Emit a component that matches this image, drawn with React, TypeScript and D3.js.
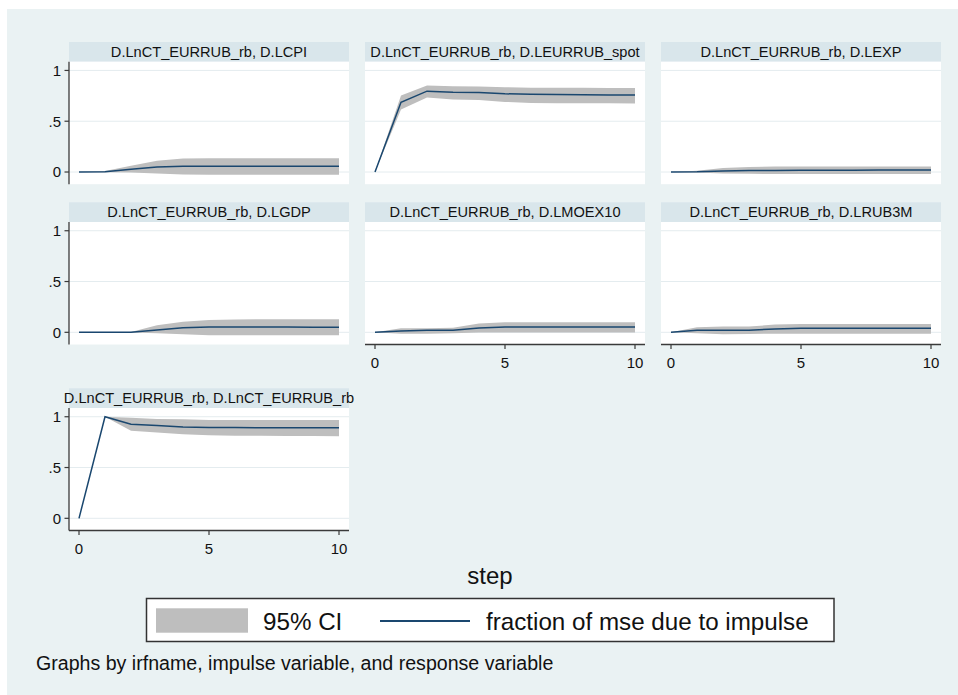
import React from "react";
import * as d3 from "d3";

const steps = [0, 1, 2, 3, 4, 5, 6, 7, 8, 9, 10];
const impulseName = "D.LnCT_EURRUB_rb";
const responseNames = ["D.LCPI", "D.LEURRUB_spot", "D.LEXP", "D.LGDP", "D.LMOEX10", "D.LRUB3M", "D.LnCT_EURRUB_rb"];

const lcpiFrac = [0, 0.003, 0.027, 0.05, 0.056, 0.057, 0.057, 0.057, 0.057, 0.057, 0.057];
const lcpiLo = [0, -0.002, -0.006, -0.015, -0.024, -0.026, -0.026, -0.026, -0.026, -0.026, -0.026];
const lcpiHi = [0, 0.01, 0.062, 0.112, 0.132, 0.135, 0.135, 0.135, 0.135, 0.135, 0.135];

const spotFrac = [0, 0.687, 0.796, 0.786, 0.782, 0.77, 0.765, 0.763, 0.761, 0.759, 0.757];
const spotLo = [0, 0.615, 0.733, 0.714, 0.71, 0.69, 0.68, 0.678, 0.677, 0.676, 0.675];
const spotHi = [0, 0.753, 0.852, 0.845, 0.843, 0.835, 0.83, 0.829, 0.829, 0.828, 0.828];

const lexpFrac = [0, 0.002, 0.01, 0.014, 0.016, 0.017, 0.018, 0.018, 0.019, 0.019, 0.019];
const lexpLo = [0, -0.006, -0.014, -0.018, -0.02, -0.02, -0.02, -0.02, -0.02, -0.02, -0.02];
const lexpHi = [0, 0.012, 0.04, 0.05, 0.054, 0.055, 0.055, 0.055, 0.055, 0.055, 0.055];

const lgdpFrac = [0, 0, 0.001, 0.023, 0.046, 0.052, 0.053, 0.053, 0.052, 0.051, 0.05];
const lgdpLo = [0, 0, -0.001, -0.01, -0.02, -0.028, -0.03, -0.03, -0.03, -0.03, -0.03];
const lgdpHi = [0, 0, 0.003, 0.069, 0.105, 0.122, 0.127, 0.128, 0.128, 0.128, 0.128];

const moexFrac = [0, 0.013, 0.02, 0.02, 0.043, 0.053, 0.053, 0.053, 0.053, 0.053, 0.053];
const moexLo = [0, -0.013, -0.015, -0.01, -0.003, -0.003, -0.003, -0.003, -0.003, -0.003, -0.003];
const moexHi = [0, 0.04, 0.04, 0.046, 0.086, 0.099, 0.099, 0.099, 0.099, 0.099, 0.099];

const rub3mFrac = [0, 0.02, 0.02, 0.02, 0.033, 0.04, 0.04, 0.04, 0.04, 0.04, 0.04];
const rub3mLo = [0, -0.01, -0.02, -0.016, -0.014, -0.013, -0.013, -0.013, -0.013, -0.013, -0.013];
const rub3mHi = [0, 0.05, 0.056, 0.056, 0.076, 0.083, 0.083, 0.083, 0.083, 0.083, 0.083];

const ownFrac = [0, 1.0, 0.927, 0.914, 0.9, 0.894, 0.893, 0.892, 0.892, 0.891, 0.891];
const ownLo = [0, 1.0, 0.861, 0.845, 0.828, 0.818, 0.813, 0.812, 0.811, 0.81, 0.808];
const ownHi = [0, 1.0, 0.99, 0.977, 0.975, 0.968, 0.967, 0.967, 0.967, 0.967, 0.967];

const fracSeries = [lcpiFrac, spotFrac, lexpFrac, lgdpFrac, moexFrac, rub3mFrac, ownFrac];
const loSeries = [lcpiLo, spotLo, lexpLo, lgdpLo, moexLo, rub3mLo, ownLo];
const hiSeries = [lcpiHi, spotHi, lexpHi, lgdpHi, moexHi, rub3mHi, ownHi];

const yTicks = [0, 0.5, 1];
const yTickLabels = ["0", ".5", "1"];
const xTicks = [0, 5, 10];

const legendCI = "95% CI";
const legendLine = "fraction of mse due to impulse";
const xTitle = "step";
const note = "Graphs by irfname, impulse variable, and response variable";

const FONT = "'Liberation Sans', Arial, Helvetica, sans-serif";
const BG = "#EAF2F3";
const STRIP = "#D9E6EB";
const GRID = "#E4ECEF";
const CI = "#BEBEBE";
const NAVY = "#1A476F";
const AXIS = "#3a3a3a";

const colLeft = [69, 365, 661];
const rowTop = [42, 202.3, 388.3];
const panelW = 280;
const stripH = 19.7;
const plotH = 122.5;

function Panel({ i }: { i: number }) {
  const col = i % 3;
  const row = Math.floor(i / 3);
  const x0 = colLeft[col];
  const sTop = rowTop[row];
  const pTop = sTop + stripH;
  const pBot = pTop + plotH;
  const showY = col === 0;
  const showX = i + 3 >= responseNames.length;

  const x = d3.scaleLinear().domain([0, 10]).range([x0 + 10, x0 + panelW - 10]);
  const y = d3.scaleLinear().domain([-0.12, 1.086]).range([pBot, pTop]);

  const lo = loSeries[i];
  const hi = hiSeries[i];
  const fr = fracSeries[i];

  const area = d3
    .area<number>()
    .x((d) => x(d))
    .y0((d, k) => y(lo[k]))
    .y1((d, k) => y(hi[k]));
  const line = d3
    .line<number>()
    .x((d) => x(d))
    .y((d, k) => y(fr[k]));

  return (
    <g>
      <rect x={x0} y={sTop} width={panelW} height={stripH} fill={STRIP} />
      <text
        x={x0 + panelW / 2}
        y={sTop + stripH / 2 + 5}
        textAnchor="middle"
        fontSize={14.6}
        fontFamily={FONT}
        fill="#111"
      >
        {impulseName + ", " + responseNames[i]}
      </text>
      <rect x={x0} y={pTop} width={panelW} height={plotH} fill="#fff" />
      {yTicks.map((t) => (
        <line key={t} x1={x0} x2={x0 + panelW} y1={y(t)} y2={y(t)} stroke={GRID} strokeWidth={1} />
      ))}
      <path d={area(steps) || ""} fill={CI} stroke="none" />
      <path d={line(steps) || ""} fill="none" stroke={NAVY} strokeWidth={1.5} />
      {showY && (
        <g>
          <line x1={x0} x2={x0} y1={pTop} y2={pBot} stroke={AXIS} strokeWidth={1.3} />
          {yTicks.map((t, k) => (
            <g key={t}>
              <line x1={x0 - 4.5} x2={x0} y1={y(t)} y2={y(t)} stroke={AXIS} strokeWidth={1.2} />
              <text
                x={x0 - 8}
                y={y(t) + 5.3}
                textAnchor="end"
                fontSize={15}
                fontFamily={FONT}
                fill="#111"
              >
                {yTickLabels[k]}
              </text>
            </g>
          ))}
        </g>
      )}
      {showX && (
        <g>
          <line x1={x0} x2={x0 + panelW} y1={pBot} y2={pBot} stroke={AXIS} strokeWidth={1.3} />
          {xTicks.map((t) => (
            <g key={t}>
              <line x1={x(t)} x2={x(t)} y1={pBot} y2={pBot + 4.5} stroke={AXIS} strokeWidth={1.2} />
              <text
                x={x(t)}
                y={pBot + 23.5}
                textAnchor="middle"
                fontSize={15}
                fontFamily={FONT}
                fill="#111"
              >
                {t}
              </text>
            </g>
          ))}
        </g>
      )}
    </g>
  );
}

export default function App() {
  return (
    <svg
      width={958}
      height={695}
      style={{ position: "absolute", left: 0, top: 0, background: "#fff" }}
    >
      <rect x={7} y={9} width={951} height={686} fill={BG} />
      {responseNames.map((_, i) => (
        <Panel key={i} i={i} />
      ))}
      <text x={490} y={583.5} textAnchor="middle" fontSize={24} fontFamily={FONT} fill="#111">
        {xTitle}
      </text>
      <rect x={146.5} y={598.5} width={687.5} height={43} fill="#fff" stroke="#333" strokeWidth={1.5} />
      <rect x={156} y={608.3} width={92} height={24.4} fill={CI} />
      <text x={263} y={629.5} fontSize={24.2} fontFamily={FONT} fill="#111">
        {legendCI}
      </text>
      <line x1={380} x2={470} y1={621} y2={621} stroke={NAVY} strokeWidth={2} />
      <text x={486} y={629.5} fontSize={24.2} fontFamily={FONT} fill="#111">
        {legendLine}
      </text>
      <text x={36} y={669.5} fontSize={19.6} fontFamily={FONT} fill="#111">
        {note}
      </text>
    </svg>
  );
}
